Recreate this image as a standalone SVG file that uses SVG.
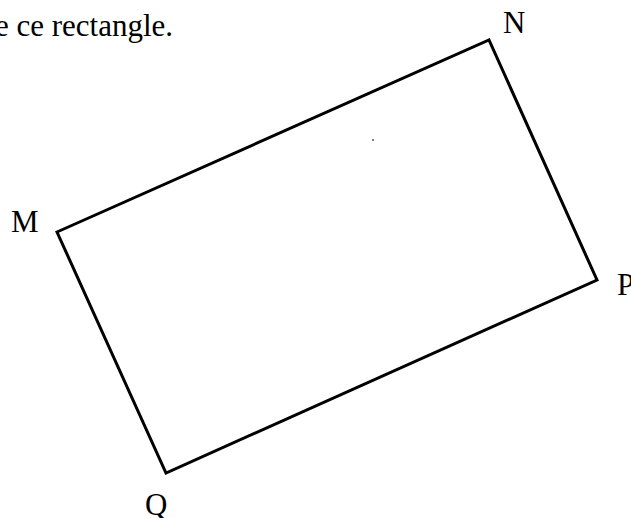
<svg xmlns="http://www.w3.org/2000/svg" width="631" height="518" viewBox="0 0 631 518">
<style>
.t{font-family:"Liberation Serif","Times New Roman",serif;font-size:31px;fill:#000}
.r{fill:none;stroke:#000;stroke-width:3;stroke-linejoin:miter}
</style>
<rect width="631" height="518" fill="#fff"/>
<text class="t" x="-5" y="36">e ce rectangle.</text>
<g id="connectors">
<polygon class="r" points="57,232 489,40 597,280 166,473"/>
</g>
<g id="N"><text class="t" x="503" y="33">N</text></g>
<g id="M"><text class="t" x="11" y="232">M</text></g>
<g id="P"><text class="t" x="617" y="295">P</text></g>
<g id="Q"><text class="t" x="145" y="515">Q</text></g>
<circle cx="373" cy="140" r="1" fill="#555"/>
</svg>
